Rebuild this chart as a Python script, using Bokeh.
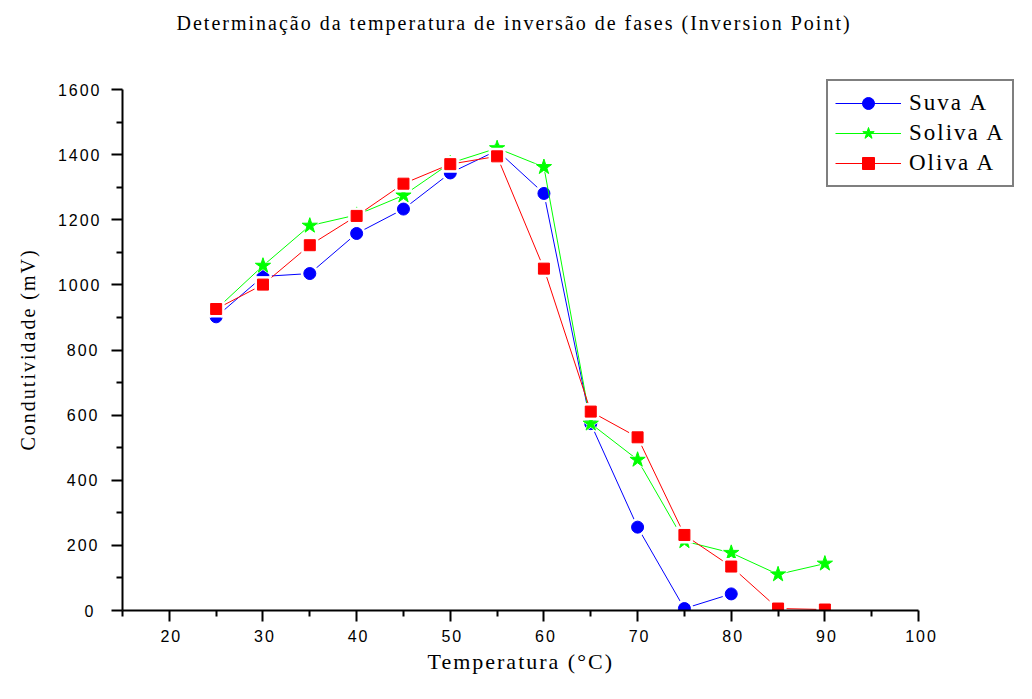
from bokeh.plotting import figure
from bokeh.models import Range1d, Legend, LegendItem, FixedTicker, Title, InlineStyleSheet
from bokeh.embed import file_html
from bokeh.resources import INLINE

temperature = [25, 30, 35, 40, 45, 50, 55, 60, 65, 70, 75, 80, 85, 90]
suva_x = [25, 30, 35, 40, 45, 50, 55, 60, 65, 70, 75, 80]
suva_y = [902, 1026, 1035, 1158, 1233, 1344, 1413, 1281, 574, 256, 6, 51]
soliva_y = [925, 1059, 1182, 1215, 1275, 1374, 1420, 1362, 574, 463, 213, 177, 111, 144]
oliva_y = [926, 1001, 1122, 1212, 1311, 1371, 1395, 1050, 611, 532, 232, 135, 6, 3]

x_ticks = [20, 30, 40, 50, 60, 70, 80, 90, 100]
x_minor = [15, 25, 35, 45, 55, 65, 75, 85, 95]
y_ticks = [0, 200, 400, 600, 800, 1000, 1200, 1400, 1600]
y_minor = [100, 300, 500, 700, 900, 1100, 1300, 1500]

SERIF = "Liberation Serif"
SANS = "Liberation Sans"

W, H = 1016, 683
p = figure(width=W, height=H, output_backend="svg", toolbar_location=None,
           x_range=Range1d(15, 110.46), y_range=Range1d(0, 1631),
           min_border_left=122, min_border_right=0, min_border_top=79, min_border_bottom=73)
p.stylesheets = [InlineStyleSheet(css=':host { letter-spacing: 2px; }')]
p.outline_line_color = None
p.grid.visible = False
p.background_fill_color = "white"
p.border_fill_color = "white"

for ax in (p.xaxis[0], p.yaxis[0]):
    ax.axis_line_width = 2
    ax.major_tick_line_width = 2
    ax.minor_tick_line_width = 2
    ax.major_tick_out = 11
    ax.major_tick_in = 0
    ax.minor_tick_out = 6
    ax.minor_tick_in = 0
    ax.major_label_text_font = SANS
    ax.major_label_text_font_size = "16px"
    ax.major_label_text_color = "black"

p.xaxis.bounds = (15, 100)
p.yaxis.bounds = (0, 1600)
p.xaxis.ticker = FixedTicker(ticks=x_ticks, minor_ticks=x_minor)
p.yaxis.ticker = FixedTicker(ticks=y_ticks, minor_ticks=y_minor)
p.xaxis.major_label_standoff = 8
p.yaxis.major_label_standoff = 18

ylabel = Title(text="Condutividade (mV)", align="left", offset=160, vertical_align="top", standoff=28,
               text_font=SERIF, text_font_size="20px", text_font_style="normal", text_color="black")
p.add_layout(ylabel, "left")

xlabel = Title(text="Temperatura (°C)", align="left", offset=305, vertical_align="top", standoff=8,
               text_font=SERIF, text_font_size="22px", text_font_style="normal", text_color="black")
p.add_layout(xlabel, "below")

spacer = Title(text=" ", standoff=32, text_font_size="10px", text_font_style="normal")
p.add_layout(spacer, "above")
title = Title(text="Determinação da temperatura de inversão de fases (Inversion Point)",
              align="left", offset=54, vertical_align="middle", standoff=0,
              text_font=SERIF, text_font_size="20px", text_font_style="normal", text_color="black")
p.add_layout(title, "above")

series = [
    ("Suva A", suva_x, suva_y, "#0000FF", "circle", 12),
    ("Soliva A", temperature, soliva_y, "#00FF00", "star", 16),
    ("Oliva A", temperature, oliva_y, "#FF0000", "square", 11),
]

items = []
for name, xs, ys, color, marker, size in series:
    ln = p.line(xs, ys, line_color=color, line_width=1)
    p.scatter(xs, ys, marker=marker, size=size + 6, fill_color="white", line_color=None)
    mk = p.scatter(xs, ys, marker=marker, size=size, fill_color=color, line_color=color, line_width=1)
    items.append(LegendItem(label=name, renderers=[ln, mk]))

legend = Legend(items=items, location=(704, 423))
legend.border_line_color = "black"
legend.border_line_width = 2
legend.background_fill_color = "white"
legend.background_fill_alpha = 1
legend.label_text_font = SERIF
legend.label_text_font_size = "23px"
legend.label_text_color = "black"
legend.glyph_width = 66
legend.glyph_height = 30
legend.label_height = 30
legend.label_width = 92
legend.spacing = 0
legend.padding = 7
legend.margin = 0
legend.label_standoff = 8
p.add_layout(legend, "center")

open("out.html", "w").write(file_html(p, INLINE))
